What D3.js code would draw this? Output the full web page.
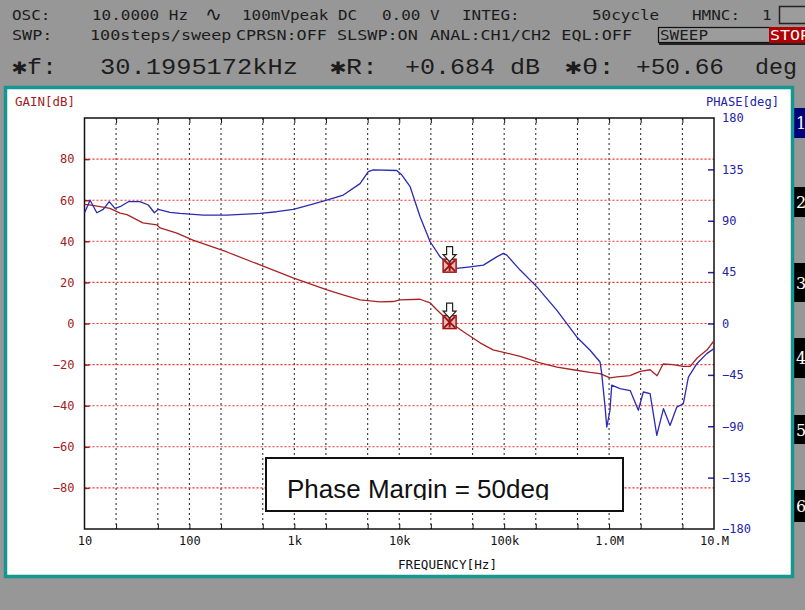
<!DOCTYPE html>
<html>
<head>
<meta charset="utf-8">
<script src="https://cdn.jsdelivr.net/npm/d3@7"></script>
<style>
body { margin: 0; background: #979797; }
svg { display: block; }
</style>
</head>
<body>
<div id="chart"></div>
<script>
// values
var freqTicks = [10, 100, 1e3, 1e4, 1e5, 1e6, 1e7];
var freqLabels = ["10", "100", "1k", "10k", "100k", "1.0M", "10.M"];
var gridFreqs = [20, 50, 100, 200, 500, 1e3, 2e3, 5e3, 1e4, 2e4, 5e4, 1e5, 2e5, 5e5, 1e6, 2e6, 5e6];
var gainTicks = [-80, -60, -40, -20, 0, 20, 40, 60, 80];
var phaseTicks = [-180, -135, -90, -45, 0, 45, 90, 135, 180];
var phaseMarks = [-135, -90, -45, 0, 45, 90, 135];

var gainFreq = [10, 12, 17.5, 21.8, 25.4, 36, 49, 52.5, 76, 108,
  228, 471, 972, 2050, 2910, 4240, 6570, 8730, 10200, 15800,
  19700, 22900, 30200, 40600, 58900, 78300, 142000, 220000, 319000, 454000, 659000,
  820000, 1.02e6, 1.19e6, 1.58e6, 1.98e6, 2.46e6, 2.87e6, 3.27e6, 4.08e6, 5.08e6,
  5.93e6, 6.91e6, 8.6e6, 1e7];
var gainDb = [58, 57.5, 56, 53.7, 53, 49, 48, 46.5, 44, 40.6,
  34.8, 28.5, 22.2, 16.4, 13.9, 11.5, 10.5, 10.7, 11.5, 11.8,
  10, 6.6, 0.7, -3.9, -9.4, -12.8, -16, -19.2, -21.2, -22.5, -23.8,
  -24.4, -26.5, -26, -25.4, -23.3, -22.5, -25.4, -19.7, -20, -20.9,
  -20.9, -16.8, -12.8, -8.4];

var phaseFreq = [10, 11.3, 13.1, 15.1, 17.2, 19.5, 21.8, 26.2, 33.8, 40.6,
  46.3, 50.5, 65.3, 81.3, 136, 227, 471, 679, 977, 1410,
  2040, 2930, 4230, 5070, 5660, 9460, 10600, 12700, 15800, 19700,
  24500, 30200, 35300, 47300, 63400, 84900, 98200, 106000, 142000, 205000,
  317000, 492000, 659000, 820000, 851000, 916000, 950000, 1.02e6, 1.06e6, 1.27e6,
  1.59e6, 1.9e6, 2.12e6, 2.46e6, 2.85e6, 3.3e6, 3.81e6, 4.42e6, 5.1e6, 5.7e6,
  6.86e6, 8.53e6, 1e7];
var phaseDeg = [96.8, 108, 97, 100, 106.7, 100.9, 102.3, 106.7, 106.7, 103.8,
  97, 100, 97.4, 96.5, 95, 95, 96.5, 97.9, 100, 103.8,
  108, 112.5, 122.5, 133, 134.5, 134, 130, 119.8, 93.5, 71.6,
  58.4, 50.7, 48.2, 49.6, 51.1, 58.4, 61.4, 59.9, 46.8, 32.1,
  11.7, -11.8, -23.4, -33.7, -43.9, -73.2, -90.7, -76, -54, -57,
  -58.7, -76, -60, -61.4, -98, -74.6, -89.3, -73.2, -70.3, -46.9,
  -35.2, -26.4, -22];

var markerFreq = 30199.5172, markerGain = 0.684, markerPhase = 50.66;

var mono = "'DejaVu Sans Mono', 'Liberation Mono', monospace";
var thinMono = "'Liberation Mono', 'DejaVu Sans Mono', monospace";

function drawChart() {
  var W = 805, H = 610;
  var plot = {left: 84.5, right: 714, top: 118, bottom: 529};
  var darkRed = "#a31c1c", blue = "#2424a8";

  var svg = d3.select("#chart").append("svg")
    .attr("width", W)
    .attr("height", H);

  svg.append("rect").attr("width", W).attr("height", H).attr("fill", "#979797");

  // ---- instrument status lines ----
  var line1 = [["OSC:", 12], ["10.0000 Hz", 92], ["100mVpeak DC", 242],
    ["0.00 V", 382], ["INTEG:", 462], ["50cycle", 592], ["HMNC:", 692], ["1", 762]];
  var line2 = [["SWP:", 12], ["100steps/sweep", 90], ["CPRSN:OFF SLSWP:ON", 236],
    ["ANAL:CH1/CH2 EQL:OFF", 430]];
  var line3 = [["\u2731f:", 12, 45], ["30.1995172kHz", 100, 198], ["\u2731R:", 330, 48],
    ["+0.684 dB", 405, 135], ["\u2731\u03B8:", 565, 50], ["+50.66", 636, 88], ["deg", 755, 42]];

  svg.append("g").selectAll("text").data(line1).enter().append("text")
    .attr("x", d => d[1]).attr("y", 20)
    .attr("font-family", mono).attr("font-size", 14.5).attr("fill", "#1c1c1c")
    .attr("textLength", d => d[0].length * 9.6).attr("lengthAdjust", "spacingAndGlyphs")
    .text(d => d[0]);
  svg.append("text").attr("x", 205).attr("y", 21)
    .attr("font-family", "'DejaVu Sans', sans-serif").attr("font-size", 20).attr("fill", "#1c1c1c")
    .attr("textLength", 17).attr("lengthAdjust", "spacingAndGlyphs").text("\u223F");
  svg.append("g").selectAll("text").data(line2).enter().append("text")
    .attr("x", d => d[1]).attr("y", 40)
    .attr("font-family", mono).attr("font-size", 14.5).attr("fill", "#1c1c1c")
    .attr("textLength", d => d[0].length * 10.1).attr("lengthAdjust", "spacingAndGlyphs")
    .text(d => d[0]);
  svg.append("g").selectAll("text").data(line3).enter().append("text")
    .attr("x", d => d[1]).attr("y", 74)
    .attr("font-family", thinMono).attr("font-size", 22).attr("fill", "#1c1c1c")
    .attr("textLength", d => d[2]).attr("lengthAdjust", "spacingAndGlyphs")
    .text(d => d[0]);

  // HMNC box, SWEEP box, STOP
  svg.append("rect").attr("x", 779.5).attr("y", 6.5).attr("width", 30).attr("height", 17)
    .attr("fill", "#9c9c9c").attr("stroke", "#222").attr("stroke-width", 1.5);
  svg.append("rect").attr("x", 658.5).attr("y", 27.5).attr("width", 112).attr("height", 15)
    .attr("fill", "#9c9c9c").attr("stroke", "#111").attr("stroke-width", 1.2);
  svg.append("line").attr("x1", 659).attr("x2", 805).attr("y1", 44).attr("y2", 44)
    .attr("stroke", "#222").attr("stroke-width", 2);
  svg.append("text").attr("x", 660).attr("y", 40).attr("font-family", mono)
    .attr("font-size", 14.5).attr("fill", "#1c1c1c")
    .attr("textLength", 48).attr("lengthAdjust", "spacingAndGlyphs").text("SWEEP");
  svg.append("rect").attr("x", 769).attr("y", 27).attr("width", 36).attr("height", 16)
    .attr("fill", "#b00000");
  svg.append("text").attr("x", 770).attr("y", 40).attr("font-family", mono)
    .attr("font-size", 14.5).attr("fill", "#fff")
    .attr("textLength", 40).attr("lengthAdjust", "spacingAndGlyphs").text("STOP");

  // soft keys at the right edge
  var keys = [["1", 108, 30, "#00007a"], ["2", 187, 30, "#000"], ["3", 263, 39, "#000"],
    ["4", 338, 40, "#000"], ["5", 415, 29, "#000"], ["6", 490, 32, "#000"]];
  var kg = svg.append("g");
  kg.selectAll("rect").data(keys).enter().append("rect")
    .attr("x", 794).attr("y", d => d[1]).attr("width", 11).attr("height", d => d[2])
    .attr("fill", d => d[3]);
  kg.selectAll("text").data(keys).enter().append("text")
    .attr("x", 796).attr("y", d => d[1] + d[2] / 2 + 6)
    .attr("font-family", "'DejaVu Serif', serif").attr("font-size", 16).attr("fill", "#fff")
    .text(d => d[0]);

  // white panel with teal frame
  svg.append("rect").attr("x", 5.5).attr("y", 87.5).attr("width", 787).attr("height", 489)
    .attr("fill", "#fff").attr("stroke", "#17968f").attr("stroke-width", 3.5);

  // scales
  var x = d3.scaleLog().domain([10, 1e7]).range([plot.left, plot.right]);
  var yGain = d3.scaleLinear().domain([-100, 100]).range([plot.bottom, plot.top]);
  var yPhase = d3.scaleLinear().domain([-180, 180]).range([plot.bottom, plot.top]);

  // grid
  svg.append("g").selectAll("line").data(gridFreqs).enter().append("line")
    .attr("x1", d => x(d)).attr("x2", d => x(d))
    .attr("y1", plot.top).attr("y2", plot.bottom)
    .attr("stroke", "#333").attr("stroke-width", 1.1).attr("stroke-dasharray", "2,3");
  svg.append("g").selectAll("line").data(gainTicks).enter().append("line")
    .attr("x1", plot.left).attr("x2", plot.right)
    .attr("y1", d => yGain(d)).attr("y2", d => yGain(d))
    .attr("stroke", "#ff2a2a").attr("stroke-width", 1.1).attr("stroke-dasharray", "2,2");

  // inner ticks, bottom and top
  svg.append("g").attr("transform", `translate(0,${plot.bottom})`)
    .call(d3.axisBottom(x).tickValues(gridFreqs).tickSize(-5).tickFormat(""))
    .call(g => g.select(".domain").remove())
    .selectAll("line").attr("stroke", "#111");
  svg.append("g").attr("transform", `translate(0,${plot.top})`)
    .call(d3.axisTop(x).tickValues(gridFreqs).tickSize(-5).tickFormat(""))
    .call(g => g.select(".domain").remove())
    .selectAll("line").attr("stroke", "#111");

  // gain ticks (inside, left)
  svg.append("g").attr("transform", `translate(${plot.left},0)`)
    .call(d3.axisRight(yGain).tickValues(gainTicks).tickSize(5).tickFormat(""))
    .call(g => g.select(".domain").remove())
    .selectAll("line").attr("stroke", darkRed).attr("stroke-width", 1.5);
  // phase ticks (inside, right)
  svg.append("g").attr("transform", `translate(${plot.right},0)`)
    .call(d3.axisLeft(yPhase).tickValues(phaseMarks).tickSize(6).tickFormat(""))
    .call(g => g.select(".domain").remove())
    .selectAll("line").attr("stroke", blue).attr("stroke-width", 1.5);

  // tick labels
  var xLab = svg.append("g").attr("transform", `translate(0,${plot.bottom})`)
    .call(d3.axisBottom(x).tickValues(freqTicks).tickSize(0).tickPadding(7)
      .tickFormat((d, i) => freqLabels[i]));
  xLab.select(".domain").remove();
  xLab.attr("font-family", mono).attr("font-size", 12)
    .selectAll("text").attr("fill", "#111");

  var gLab = svg.append("g").attr("transform", `translate(${plot.left},0)`)
    .call(d3.axisLeft(yGain).tickValues(gainTicks).tickSize(0).tickPadding(10));
  gLab.select(".domain").remove();
  gLab.attr("font-family", mono).attr("font-size", 12)
    .selectAll("text").attr("fill", darkRed);

  var pLab = svg.append("g").attr("transform", `translate(${plot.right},0)`)
    .call(d3.axisRight(yPhase).tickValues(phaseTicks).tickSize(0).tickPadding(8));
  pLab.select(".domain").remove();
  pLab.attr("font-family", mono).attr("font-size", 12)
    .selectAll("text").attr("fill", blue);

  // axis titles
  svg.append("text").attr("x", 15).attr("y", 106).attr("font-family", mono)
    .attr("font-size", 11.5).attr("fill", darkRed)
    .attr("textLength", 60).attr("lengthAdjust", "spacingAndGlyphs").text("GAIN[dB]");
  svg.append("text").attr("x", 706).attr("y", 106).attr("font-family", mono)
    .attr("font-size", 11.5).attr("fill", blue)
    .attr("textLength", 73).attr("lengthAdjust", "spacingAndGlyphs").text("PHASE[deg]");
  svg.append("text").attr("x", 398).attr("y", 569).attr("font-family", mono)
    .attr("font-size", 11.5).attr("fill", "#111")
    .attr("textLength", 99).attr("lengthAdjust", "spacingAndGlyphs").text("FREQUENCY[Hz]");

  // plot frame
  svg.append("rect").attr("x", plot.left).attr("y", plot.top)
    .attr("width", plot.right - plot.left).attr("height", plot.bottom - plot.top)
    .attr("fill", "none").attr("stroke", "#111").attr("stroke-width", 1.5);

  // curves
  var gainLine = d3.line().x(d => x(d[0])).y(d => yGain(d[1]));
  var phaseLine = d3.line().x(d => x(d[0])).y(d => yPhase(d[1]));

  svg.append("path").datum(d3.zip(gainFreq, gainDb))
    .attr("d", gainLine).attr("fill", "none")
    .attr("stroke", "#a82424").attr("stroke-width", 1.3).attr("stroke-linejoin", "round");
  svg.append("path").datum(d3.zip(phaseFreq, phaseDeg))
    .attr("d", phaseLine).attr("fill", "none")
    .attr("stroke", "#2a2ab4").attr("stroke-width", 1.3).attr("stroke-linejoin", "round");

  // cursor markers
  function marker(cx, cy) {
    var g = svg.append("g").attr("transform", `translate(${cx},${cy})`);
    g.append("rect").attr("x", -6.5).attr("y", -6.5).attr("width", 13).attr("height", 13)
      .attr("fill", "#e7b9b9").attr("stroke", "#a01414").attr("stroke-width", 1.5);
    g.append("path").attr("d", "M-5.5,-5.5L5.5,5.5M5.5,-5.5L-5.5,5.5M0,-5.5V5.5")
      .attr("stroke", "#a01414").attr("stroke-width", 2);
    g.append("path").attr("d", "M-3,-19H3V-11H6.5L0,-4L-6.5,-11H-3Z")
      .attr("fill", "#fff").attr("stroke", "#222").attr("stroke-width", 1.2);
  }
  marker(x(markerFreq), yGain(markerGain));
  marker(x(markerFreq), yPhase(markerPhase));

  // annotation box
  svg.append("rect").attr("x", 266).attr("y", 458).attr("width", 357).attr("height", 53)
    .attr("fill", "#fff").attr("stroke", "#111").attr("stroke-width", 2);
  svg.append("clipPath").attr("id", "noteClip")
    .append("rect").attr("x", 266).attr("y", 458).attr("width", 357).attr("height", 42);
  svg.append("text").attr("x", 287).attr("y", 498).attr("clip-path", "url(#noteClip)")
    .attr("font-family", "'Liberation Sans', Arial, sans-serif").attr("font-size", 26)
    .attr("fill", "#111").text("Phase Margin = 50deg");
}

window.onload = drawChart;
</script>
</body>
</html>
